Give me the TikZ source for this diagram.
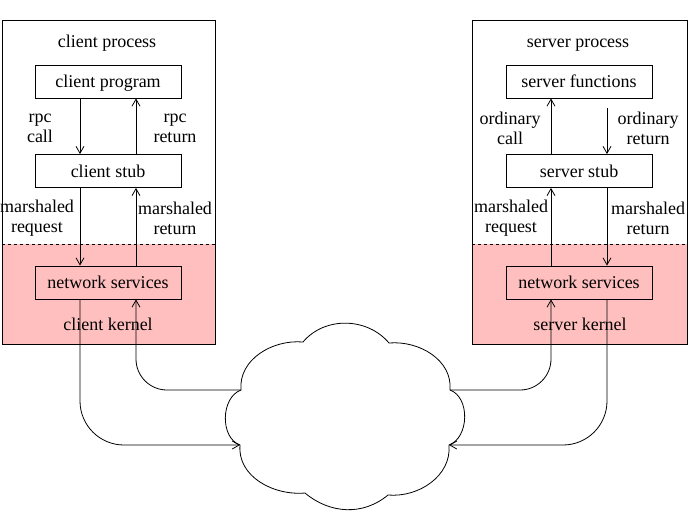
\documentclass[tikz,border=0pt]{standalone}
\usepackage{fontspec}
\setmainfont{Liberation Serif}
\usetikzlibrary{arrows.meta}
\definecolor{kernelpink}{RGB}{255,191,191}
\begin{document}
\begin{tikzpicture}[x=1pt,y=-1pt,
  every node/.style={font=\fontsize{18}{20}\selectfont},
  procbox/.style={draw, line width=0.8pt, minimum width=146pt, minimum height=33pt, inner sep=0pt, text height=12pt, text depth=0pt},
  outerbox/.style={draw, line width=0.8pt, inner sep=0pt},
  lbl/.style={align=center, inner sep=0pt},
  title/.style={anchor=base, inner sep=0pt},
  flow/.style={line width=0.8pt, -{Straight Barb[length=7pt,width=8pt]}},
  wire/.style={line width=0.8pt}]
\useasboundingbox (0,0) rectangle (690,517);

% kernel areas (filled first, outlines on top)
\fill[kernelpink] (2,244) rectangle (215,344);
\fill[kernelpink] (472,244) rectangle (687,344);

% process frames
\node[outerbox, minimum width=213pt, minimum height=324pt] (cproc) at (108.5,182) {};
\node[outerbox, minimum width=215pt, minimum height=324pt] (sproc) at (579.5,182) {};
\draw[wire, dashed] (2,244) -- (215,244);
\draw[wire, dashed] (472,244) -- (687,244);
\draw[wire, dashed] (2,344) -- (215,344);
\draw[wire, dashed] (472,344) -- (687,344);

% client side
\node[title] (ctitle) at (107,47) {client process};
\node[procbox] (cprog) at (108,81.5) {client program};
\node[procbox] (cstub) at (108,171) {client stub};
\node[procbox] (cnet) at (108,282.5) {network services};
\node[title] (ckern) at (108,330) {client kernel};
\node[lbl] (rpccall) at (40,128.5) {rpc\\call};
\node[lbl] (rpcret) at (175,128.5) {rpc\\return};
\node[lbl] (cmreq) at (37,218) {marshaled\\request};
\node[lbl] (cmret) at (175,218) {marshaled\\return};

\coordinate (cl) at (80,0);
\coordinate (cr) at (136,0);
\draw[flow] (cprog.south -| cl) -- (cstub.north -| cl);
\draw[flow] (cstub.north -| cr) -- (cprog.south -| cr);
\draw[flow] (cstub.south -| cl) -- (cnet.north -| cl);
\draw[flow] (cnet.north -| cr) -- (cstub.south -| cr);

% server side
\node[title] (stitle) at (578,47) {server process};
\node[procbox] (sfun) at (579,81.5) {server functions};
\node[procbox] (sstub) at (579,171) {server stub};
\node[procbox] (snet) at (579,282.5) {network services};
\node[title] (skern) at (580,330) {server kernel};
\node[lbl] (ordcall) at (510,128.5) {ordinary\\call};
\node[lbl] (ordret) at (648,128.5) {ordinary\\return};
\node[lbl] (smreq) at (511,218) {marshaled\\request};
\node[lbl] (smret) at (648,218) {marshaled\\return};

\coordinate (sl) at (551,0);
\coordinate (sr) at (607,0);
\coordinate (ordstart) at (607,108);
\draw[flow] (sstub.north -| sl) -- (sfun.south -| sl);
\draw[flow] (ordstart) -- (sstub.north -| sr);
\draw[flow] (snet.north -| sl) -- (sstub.south -| sl);
\draw[flow] (sstub.south -| sr) -- (snet.north -| sr);

% network cloud: eight puffs meeting at cusps k1..k8
\coordinate (k1) at (241,390);
\coordinate (k2) at (303,342);
\coordinate (k3) at (389,343);
\coordinate (k4) at (450,390);
\coordinate (k5) at (449,445);
\coordinate (k6) at (388,495);
\coordinate (k7) at (305,493);
\coordinate (k8) at (240,445);
\draw[wire, fill=white] (k1)
  to[out=95, in=175] (k2)
  to[out=50, in=130] (k3)
  to[out=5, in=85] (k4)
  to[out=-20, in=20] (k5)
  to[out=-85, in=-5] (k6)
  to[out=-140, in=-40] (k7)
  to[out=-175, in=-95] (k8)
  to[out=160, in=-160] (k1) -- cycle;

% links between kernels and the network
\draw[flow, rounded corners=44pt] (cnet.south -| cl) |- (k8);
\draw[flow, rounded corners=31pt] (k1) -| (cnet.south -| cr);
\draw[flow, rounded corners=31pt] (k4) -| (snet.south -| sl);
\draw[flow, rounded corners=44pt] (snet.south -| sr) |- (k5);
\end{tikzpicture}
\end{document}
